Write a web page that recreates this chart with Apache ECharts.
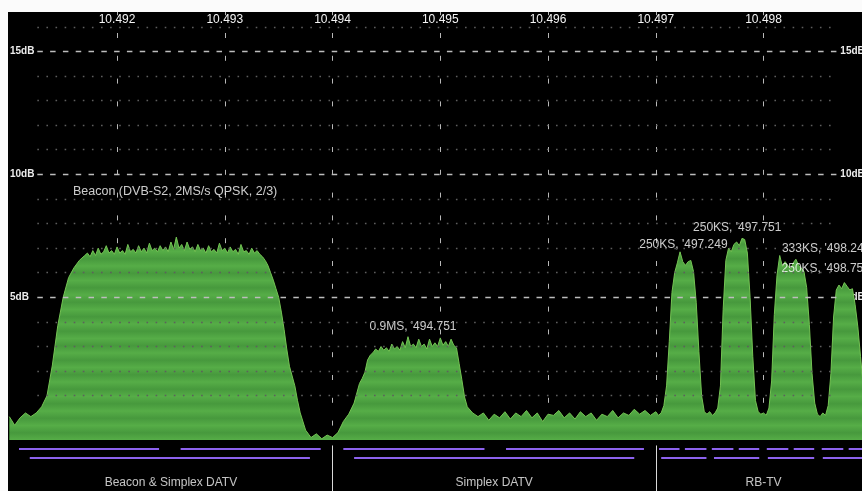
<!DOCTYPE html>
<html>
<head>
<meta charset="utf-8">
<script src="https://cdn.jsdelivr.net/npm/echarts@6/dist/echarts.min.js"></script>
<style>
  html, body { margin: 0; padding: 0; background: #fff; }
  #chart { width: 862px; height: 491px; }
</style>
</head>
<body>
<div id="chart"></div>
<script>
// ---- data -------------------------------------------------------------
// Frequency ticks along the top (MHz, shown as GHz)
const freqTicks = [10492, 10493, 10494, 10495, 10496, 10497, 10498];
// Level labels (dB) and the finer 1 dB raster
const levelTicks = [5, 10, 15];
const minorLevels = [1, 2, 3, 4, 6, 7, 8, 9, 11, 12, 13, 14, 16];

// Spectrum trace: [frequency MHz, level dB]
const spectrum = [
  [10491.00, 0.15], [10491.05, -0.2], [10491.10, 0.1], [10491.15, 0.3], [10491.20, 0.15],
  [10491.25, 0.3], [10491.30, 0.55], [10491.35, 1.0], [10491.40, 2.25], [10491.45, 3.85],
  [10491.50, 5.0], [10491.55, 5.8], [10491.60, 6.2], [10491.65, 6.5], [10491.70, 6.7],
  [10491.725, 6.8], [10491.750, 6.65], [10491.775, 6.9], [10491.800, 6.7], [10491.825, 7.0],
  [10491.850, 6.75], [10491.875, 6.85], [10491.900, 7.1], [10491.925, 6.8], [10491.950, 6.9],
  [10491.975, 6.75], [10492.000, 7.05], [10492.025, 6.8], [10492.050, 6.9], [10492.075, 6.75],
  [10492.100, 7.15], [10492.125, 6.85], [10492.150, 6.95], [10492.175, 6.8], [10492.200, 7.1],
  [10492.225, 6.85], [10492.250, 7.0], [10492.275, 6.8], [10492.300, 7.2], [10492.325, 6.9],
  [10492.350, 7.0], [10492.375, 6.85], [10492.400, 7.1], [10492.425, 6.9], [10492.450, 7.05],
  [10492.475, 6.85], [10492.500, 7.25], [10492.525, 6.95], [10492.550, 7.45], [10492.575, 7.0],
  [10492.600, 7.15], [10492.625, 6.9], [10492.650, 7.25], [10492.675, 6.95], [10492.700, 7.05],
  [10492.725, 6.85], [10492.750, 7.15], [10492.775, 6.9], [10492.800, 7.0], [10492.825, 6.8],
  [10492.850, 7.1], [10492.875, 6.85], [10492.900, 6.95], [10492.925, 6.8], [10492.950, 7.2],
  [10492.975, 6.9], [10493.000, 7.0], [10493.025, 6.8], [10493.050, 7.05], [10493.075, 6.85],
  [10493.100, 6.95], [10493.125, 6.75], [10493.150, 7.15], [10493.175, 6.85], [10493.200, 6.9],
  [10493.225, 6.75], [10493.250, 7.0], [10493.275, 6.8], [10493.300, 6.9], [10493.325, 6.75],
  [10493.350, 6.65], [10493.375, 6.5], [10493.400, 6.3], [10493.425, 6.0], [10493.450, 5.7],
  [10493.475, 5.35], [10493.500, 5.0], [10493.525, 4.4], [10493.550, 3.7], [10493.575, 2.9],
  [10493.600, 2.2], [10493.625, 1.8], [10493.650, 1.4], [10493.675, 0.8], [10493.700, 0.3],
  [10493.75, -0.4], [10493.80, -0.7], [10493.85, -0.55], [10493.90, -0.75], [10493.95, -0.6],
  [10494.00, -0.7], [10494.05, -0.5], [10494.10, -0.05], [10494.15, 0.25], [10494.20, 0.7],
  [10494.250, 1.5], [10494.275, 1.7], [10494.300, 1.95], [10494.325, 2.45], [10494.350, 2.65],
  [10494.375, 2.75], [10494.400, 2.9], [10494.425, 2.8], [10494.450, 3.0], [10494.475, 2.85],
  [10494.500, 2.95], [10494.525, 2.8], [10494.550, 3.1], [10494.575, 2.9], [10494.600, 3.0],
  [10494.625, 2.85], [10494.650, 3.2], [10494.675, 2.95], [10494.700, 3.4], [10494.725, 3.0],
  [10494.750, 3.1], [10494.775, 2.95], [10494.800, 3.3], [10494.825, 3.0], [10494.850, 3.1],
  [10494.875, 2.9], [10494.900, 3.3], [10494.925, 3.0], [10494.950, 3.15], [10494.975, 3.0],
  [10495.000, 3.35], [10495.025, 3.05], [10495.050, 3.2], [10495.075, 3.0], [10495.100, 3.3],
  [10495.125, 3.05], [10495.150, 2.95], [10495.175, 2.3], [10495.200, 1.65], [10495.225, 0.95],
  [10495.250, 0.55], [10495.30, 0.3], [10495.35, 0.15], [10495.40, 0.3], [10495.45, 0.0],
  [10495.50, 0.25], [10495.55, 0.1], [10495.60, 0.35], [10495.65, 0.05], [10495.70, 0.3],
  [10495.75, 0.15], [10495.80, 0.4], [10495.85, 0.1], [10495.90, 0.3], [10495.95, -0.05],
  [10496.00, 0.25], [10496.05, 0.2], [10496.10, 0.4], [10496.15, 0.1], [10496.20, 0.3],
  [10496.25, 0.05], [10496.30, 0.35], [10496.35, 0.15], [10496.40, 0.3], [10496.45, 0.0],
  [10496.50, 0.25], [10496.55, 0.15], [10496.60, 0.4], [10496.65, 0.1], [10496.70, 0.3],
  [10496.75, 0.2], [10496.80, 0.45], [10496.85, 0.25], [10496.90, 0.4], [10496.95, 0.2],
  [10497.000, 0.35], [10497.025, 0.2], [10497.050, 0.3], [10497.075, 0.6], [10497.100, 1.4],
  [10497.125, 3.2], [10497.150, 5.2], [10497.175, 6.0], [10497.200, 6.4], [10497.225, 6.85],
  [10497.250, 6.45], [10497.275, 6.3], [10497.300, 6.45], [10497.325, 6.5], [10497.350, 6.05],
  [10497.375, 4.8], [10497.400, 2.8], [10497.425, 1.0], [10497.450, 0.35], [10497.475, 0.25],
  [10497.500, 0.35], [10497.525, 0.2], [10497.550, 0.3], [10497.575, 0.5], [10497.600, 1.4],
  [10497.625, 4.5], [10497.650, 6.5], [10497.675, 7.0], [10497.700, 6.85], [10497.725, 7.15],
  [10497.750, 7.25], [10497.775, 7.1], [10497.800, 7.4], [10497.825, 7.35], [10497.850, 6.8],
  [10497.875, 5.0], [10497.900, 2.6], [10497.925, 0.8], [10497.950, 0.35], [10497.975, 0.25],
  [10498.000, 0.3], [10498.025, 0.2], [10498.050, 0.5], [10498.075, 1.6], [10498.100, 4.3],
  [10498.125, 5.9], [10498.150, 6.7], [10498.175, 6.25], [10498.200, 6.45], [10498.225, 6.3],
  [10498.250, 6.15], [10498.275, 6.4], [10498.300, 6.55], [10498.325, 6.3], [10498.350, 6.2],
  [10498.375, 6.05], [10498.400, 5.4], [10498.425, 3.9], [10498.450, 1.9], [10498.475, 0.7],
  [10498.500, 0.25], [10498.525, 0.15], [10498.550, 0.3], [10498.575, 0.2], [10498.600, 0.6],
  [10498.625, 1.9], [10498.650, 4.2], [10498.675, 5.3], [10498.700, 5.5], [10498.725, 5.35],
  [10498.750, 5.6], [10498.775, 5.45], [10498.800, 5.3], [10498.825, 5.35], [10498.850, 4.7],
  [10498.875, 3.8], [10498.900, 2.6], [10498.925, 1.4], [10498.950, 0.6], [10498.975, 0.3],
  [10499.000, 0.2]
];

// Carrier annotations: caption, centre frequency (MHz), peak level (dB)
const signalNames = [
  'Beacon (DVB-S2, 2MS/s QPSK, 2/3)',
  "0.9MS, '494.751",
  "250KS, '497.249",
  "250KS, '497.751",
  "333KS, '498.249",
  "250KS, '498.751"
];
const signalFreqs = [10492.5, 10494.751, 10497.249, 10497.751, 10498.249, 10498.751];
const signalPeaks = [7.45, 3.4, 6.85, 7.4, 6.7, 5.6];

// Band plan underneath the trace
const bandNames = ['Beacon & Simplex DATV', 'Simplex DATV', 'RB-TV'];
const bandCentres = [10492.5, 10495.5, 10498.0];
const bandEdges = [10494, 10497];
// Channel raster, upper and lower row: [start MHz, end MHz]
const channelsUpper = [
  [10491.09, 10492.39], [10492.59, 10493.89], [10494.10, 10495.41], [10495.61, 10496.89],
  [10497.03, 10497.22], [10497.27, 10497.47], [10497.52, 10497.72], [10497.77, 10497.96],
  [10498.03, 10498.23], [10498.28, 10498.47], [10498.54, 10498.74], [10498.79, 10498.99]
];
const channelsLower = [
  [10491.19, 10493.79], [10494.20, 10496.80],
  [10497.05, 10497.47], [10497.54, 10497.96], [10498.04, 10498.47], [10498.55, 10498.99]
];

// ---- layout & style ---------------------------------------------------
const FONT = '"Liberation Sans", Arial, Helvetica, sans-serif';
const rasterFrom = 10491.26, rasterTo = 10498.68;   // extent of the level raster lines
const trackUpper = 1, trackLower = 2, trackText = 4.7; // rows of the band plan strip
const labelPlacement = [
  { pos: [4.7, -45.5], align: 'center', size: 12.5 },
  { pos: [0, -10], align: 'center', size: 12 },
  { pos: [1.3, -7], align: 'center', size: 12 },
  { pos: [1, -10], align: 'center', size: 12 },
  { pos: [-8, -6.5], align: 'left', size: 12 },
  { pos: [-62.4, -13.6], align: 'left', size: 12 }
];

// soft horizontal banding of the trace fill
const fillStops = [];
const nBands = 28;
for (let i = 0; i <= nBands; i++) {
  fillStops.push({ offset: i / nBands, color: i % 2 ? '#47993d' : '#56ad47' });
}
fillStops[0].color = '#66ba50';

const levelLine = (v) => [{ coord: [rasterFrom, v] }, { coord: [rasterTo, v] }];
const channelLines = (list, track) => list.map(c => ({ coords: [[c[0], track], [c[1], track]] }));

const chart = echarts.init(document.getElementById('chart'), null, { renderer: 'canvas' });

// the sweep runs a little past the right edge of the window
const plotWidth = 862;

chart.setOption({
  animation: false,
  backgroundColor: '#000',
  grid: [
    { left: 9.3, width: plotWidth, top: 12, bottom: 51, outerBoundsMode: 'none', containLabel: false },
    { left: 9.3, width: plotWidth, top: 440, bottom: 0, outerBoundsMode: 'none', containLabel: false }
  ],
  xAxis: [
    {
      type: 'value', gridIndex: 0, position: 'top',
      min: 10491, max: 10499, interval: 1,
      axisLine: { show: false }, axisTick: { show: false },
      axisLabel: {
        inside: true, margin: 2, color: '#f4f4f4', fontSize: 12, fontFamily: FONT,
        showMinLabel: false, showMaxLabel: false,
        formatter: v => freqTicks.includes(Math.round(v)) ? (v / 1000).toFixed(3) : ''
      },
      splitLine: {
        show: true, showMinLine: false, showMaxLine: false,
        lineStyle: { color: '#b8b8b8', width: 1, type: [5, 17.8], dashOffset: 1.8 }
      }
    },
    { type: 'value', gridIndex: 1, min: 10491, max: 10499, show: false }
  ],
  yAxis: [
    {
      type: 'value', gridIndex: 0, position: 'left', min: -0.8, max: 16.6,
      axisLine: { show: false }, axisTick: { show: false }, splitLine: { show: false },
      axisLabel: {
        inside: true, margin: 0.7, customValues: levelTicks,
        color: '#ececec', fontSize: 10, fontWeight: 'bold', fontFamily: FONT,
        formatter: v => levelTicks.includes(v) ? v + 'dB' : ''
      }
    },
    {
      type: 'value', gridIndex: 0, position: 'right', min: -0.8, max: 16.6,
      axisLine: { show: false }, axisTick: { show: false }, splitLine: { show: false },
      axisLabel: {
        inside: true, margin: 6.5, customValues: levelTicks,
        color: '#ececec', fontSize: 10, fontWeight: 'bold', fontFamily: FONT,
        formatter: v => levelTicks.includes(v) ? v + 'dB' : ''
      }
    },
    { type: 'value', gridIndex: 1, min: 0, max: 5.6, inverse: true, show: false }
  ],
  series: [
    // 5 dB raster (dashed)
    {
      type: 'line', xAxisIndex: 0, yAxisIndex: 0, data: [], z: 1, silent: true,
      markLine: {
        silent: true, symbol: ['none', 'none'], label: { show: false },
        lineStyle: { color: '#bdbdbd', width: 1.3, type: [5.5, 7.3] },
        data: levelTicks.map(levelLine)
      }
    },
    // 1 dB raster (dotted)
    {
      type: 'line', xAxisIndex: 0, yAxisIndex: 0, data: [], z: 1, silent: true,
      markLine: {
        silent: true, symbol: ['none', 'none'], label: { show: false },
        lineStyle: { color: '#5e5e5e', width: 1.3, type: [1.6, 7.5] },
        data: minorLevels.map(levelLine)
      }
    },
    // spectrum trace
    {
      type: 'line', xAxisIndex: 0, yAxisIndex: 0, z: 2,
      data: spectrum, showSymbol: false, symbol: 'none', sampling: false, silent: true,
      lineStyle: { color: '#74c354', width: 1 },
      areaStyle: {
        opacity: 1, origin: 'start',
        color: { type: 'linear', x: 0, y: 237, x2: 0, y2: 440, global: true, colorStops: fillStops }
      }
    },
    // carrier captions
    {
      type: 'scatter', xAxisIndex: 0, yAxisIndex: 0, z: 4, silent: true,
      symbolSize: 1, itemStyle: { color: 'rgba(0,0,0,0)' },
      data: signalNames.map((name, i) => ({
        name, value: [signalFreqs[i], signalPeaks[i]],
        label: {
          show: true, formatter: name, position: labelPlacement[i].pos,
          align: labelPlacement[i].align, verticalAlign: 'middle',
          color: '#ffffff', fontSize: labelPlacement[i].size, fontFamily: FONT
        }
      }))
    },
    // band plan: channel raster
    {
      type: 'lines', coordinateSystem: 'cartesian2d', xAxisIndex: 1, yAxisIndex: 2, z: 3,
      silent: true, lineStyle: { color: '#8d62ee', width: 2, opacity: 1 },
      data: channelLines(channelsUpper, trackUpper).concat(channelLines(channelsLower, trackLower))
    },
    // band plan: band separators
    {
      type: 'lines', coordinateSystem: 'cartesian2d', xAxisIndex: 1, yAxisIndex: 2, z: 3,
      silent: true, lineStyle: { color: '#d9d9d9', width: 1, opacity: 1 },
      data: bandEdges.map(f => ({ coords: [[f, 0.6], [f, 5.6]] }))
    },
    // band plan: band names
    {
      type: 'scatter', xAxisIndex: 1, yAxisIndex: 2, z: 4, silent: true,
      symbolSize: 1, itemStyle: { color: 'rgba(0,0,0,0)' },
      data: bandNames.map((name, i) => ({
        name, value: [bandCentres[i], trackText],
        label: {
          show: true, formatter: name, position: 'inside',
          color: '#f4f4f4', fontSize: 12, fontFamily: FONT
        }
      }))
    }
  ],
  graphic: [
    { type: 'rect', z: 100, silent: true, shape: { x: 0, y: 0, width: 862, height: 12 }, style: { fill: '#fbfbfb' } },
    { type: 'rect', z: 100, silent: true, shape: { x: 0, y: 0, width: 8, height: 491 }, style: { fill: '#fbfbfb' } }
  ]
});
</script>
</body>
</html>
